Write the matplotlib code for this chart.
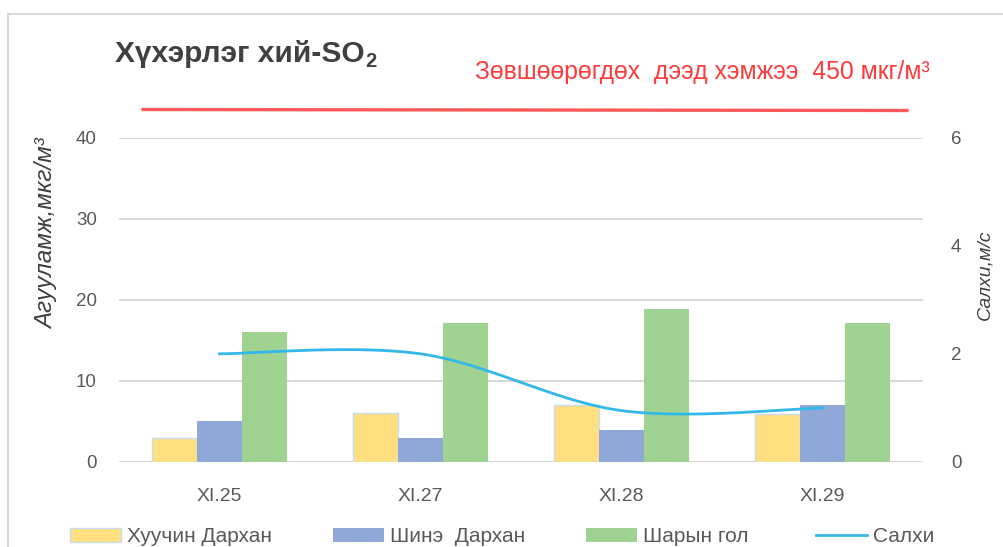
import numpy as np
import matplotlib
matplotlib.use("Agg")
import matplotlib.pyplot as plt
from matplotlib.lines import Line2D
from matplotlib.patches import Patch

plt.rcParams['font.family'] = ['Liberation Sans', 'DejaVu Sans']

# ---- data ----
categories = ["XI.25", "XI.27", "XI.28", "XI.29"]
old_darkhan = [3.0, 6.0, 7.0, 5.9]      # Хуучин Дархан
new_darkhan = [5.0, 2.9, 3.9, 7.0]      # Шинэ Дархан
sharyn_gol = [16.0, 17.1, 18.8, 17.1]   # Шарын гол
wind = [2.0, 2.0, 0.95, 1.0]            # Салхи, м/с
series_names = ["Хуучин Дархан", "Шинэ  Дархан", "Шарын гол", "Салхи"]
left_ticks = [0, 10, 20, 30, 40]
right_ticks = [0, 2, 4, 6]

W, H = 1004, 547
fig = plt.figure(figsize=(W / 100, H / 100), dpi=100)

def fx(px):
    return px / W

def fy(py):
    return 1 - py / H

ax = fig.add_axes([fx(119), fy(462), fx(923) - fx(119), fy(137.5) - fy(462)])
ax2 = ax.twinx()

c_yel, c_blue, c_green, c_line = "#FFDF80", "#8FA8D8", "#A0D392", "#33B8E8"
x = np.arange(len(categories))
w = 0.224
ax.bar(x - w, old_darkhan, w, color=c_yel, edgecolor="#C9DCF0", linewidth=1.0, zorder=3)
ax.bar(x, new_darkhan, w, color=c_blue, linewidth=0, zorder=3)
ax.bar(x + w, sharyn_gol, w, color=c_green, linewidth=0, zorder=3)

# Excel-like smoothed line (Catmull-Rom Bezier through the data points)
P = np.column_stack([x.astype(float), np.array(wind, dtype=float)])
n = len(P)
curve = []
t = np.linspace(0, 1, 60)[:, None]
for i in range(n - 1):
    p0 = P[i]
    p3 = P[i + 1]
    pm = P[i - 1] if i > 0 else P[i]
    pp = P[i + 2] if i + 2 < n else P[i + 1]
    c1 = p0 + (p3 - pm) / 6
    c2 = p3 - (pp - p0) / 6
    seg = (1 - t) ** 3 * p0 + 3 * (1 - t) ** 2 * t * c1 + 3 * (1 - t) * t ** 2 * c2 + t ** 3 * p3
    curve.append(seg)
curve = np.vstack(curve)
ax2.plot(curve[:, 0], curve[:, 1], color=c_line, lw=2.0, zorder=4)

ax.set_xlim(-0.5, 3.5)
ax.set_ylim(0, 40)
ax2.set_ylim(0, 6)
ax.set_yticks(left_ticks)
ax2.set_yticks(right_ticks)
ax.set_xticks(x)
ax.set_xticklabels(categories)
ax.grid(axis="y", color="#D9D9D9", lw=1.5, zorder=0)
ax.set_axisbelow(True)
for a in (ax, ax2):
    for s in a.spines.values():
        s.set_visible(False)
ax.tick_params(axis="y", length=0, pad=16, labelsize=13.5, labelcolor="#595959")
ax.tick_params(axis="x", length=0, pad=19, labelsize=14, labelcolor="#595959")
ax2.tick_params(axis="y", length=0, pad=20, labelsize=13.5, labelcolor="#595959")

# axis titles
fig.text(fx(47), fy(234), "Агууламж,мкг/м³", rotation=90, ha="center", va="center",
         fontsize=17.5, style="italic", color="#404040")
fig.text(fx(985), fy(275), "Салхи,м/с", rotation=90, ha="center", va="center",
         fontsize=14, style="italic", color="#404040")

# chart title
t1 = fig.text(fx(115), fy(62), "Хүхэрлэг хий-SO", fontsize=21.5, fontweight="bold",
              color="#404040", ha="left", va="baseline")
fig.canvas.draw()
bb = t1.get_window_extent()
fig.text(bb.x1 / W + 0.001, fy(67), "2", fontsize=14.5, fontweight="bold",
         color="#404040", ha="left", va="baseline")

# limit annotation
fig.text(fx(930), fy(72), "Зөвшөөрөгдөх  дээд хэмжээ  450 мкг/м³", fontsize=17.8,
         color="#FF3B3B", ha="right", va="center")
fig.add_artist(Line2D([fx(143), fx(907)], [fy(109.5), fy(110.5)], color="#FF5A5A",
                      lw=2.4, transform=fig.transFigure))

# chart frame
fig.add_artist(Line2D([fx(8), fx(8)], [fy(14), 0], color="#D9D9D9", lw=1.5,
                      transform=fig.transFigure))
fig.add_artist(Line2D([fx(8), 1], [fy(14), fy(14)], color="#D9D9D9", lw=1.5,
                      transform=fig.transFigure))

# legend
handles = [Patch(facecolor=c_yel, edgecolor="#C9DCF0", lw=1.0),
           Patch(facecolor=c_blue, lw=0),
           Patch(facecolor=c_green, lw=0),
           Line2D([0], [0], color=c_line, lw=2.0)]
lx = [70, 333, 586, 816]
for h, lab, px in zip(handles, series_names, lx):
    fig.legend([h], [lab], loc="center left", bbox_to_anchor=(fx(px), fy(537)),
               frameon=False, fontsize=15, handlelength=2.45, handleheight=0.65,
               handletextpad=0.3, borderpad=0, borderaxespad=0, labelcolor="#595959")

fig.savefig("out.png", dpi=100)
